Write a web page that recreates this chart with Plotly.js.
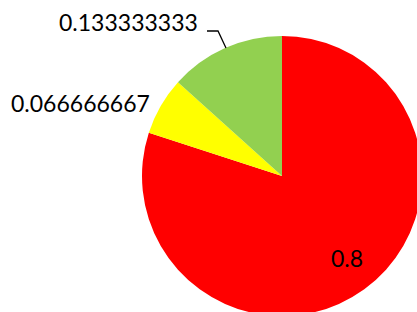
<!DOCTYPE html>
<html>
<head>
<meta charset="utf-8">
<script src="https://cdn.plot.ly/plotly-3.0.1.min.js"></script>
<style>
html,body{margin:0;padding:0;overflow:hidden;background:#fff;width:417px;height:312px;}
#chart{width:440px;height:340px;}
</style>
</head>
<body>
<div id="chart"></div>
<script>
var categories = ["A", "B", "C"];
var values = [0.8, 0.066666667, 0.133333333];
var valueLabels = ["0.8", "0.066666667", "0.133333333"];
var colors = ["#FF0000", "#FFFF00", "#92D050"];

var W = 440, H = 340;
function px(x){return x / W;}
function py(y){return 1 - y / H;}

var labelPos = [[347, 258], [80, 103], [128, 22]];

var annotations = valueLabels.map(function(t, i){
  return {
    text: t, xref: 'paper', yref: 'paper',
    x: px(labelPos[i][0]), y: py(labelPos[i][1]),
    xanchor: 'center', yanchor: 'middle', showarrow: false,
    font: {family: 'Lato, Liberation Sans, Arial, sans-serif', size: 23, color: '#000'}
  };
});

var data = [{
  type: 'pie',
  labels: categories,
  values: values,
  sort: false,
  direction: 'clockwise',
  rotation: 0,
  marker: {colors: colors, line: {width: 0}},
  textinfo: 'none',
  hoverinfo: 'none',
  domain: {x: [px(142), px(422)], y: [py(316), py(36)]}
}];

var layout = {
  width: W, height: H,
  margin: {l: 0, r: 0, t: 0, b: 0},
  showlegend: false,
  paper_bgcolor: '#fff',
  annotations: annotations,
  shapes: [{
    type: 'path', xref: 'paper', yref: 'paper',
    path: 'M ' + px(207) + ' ' + py(31) + ' L ' + px(218) + ' ' + py(31) + ' L ' + px(226) + ' ' + py(48),
    line: {color: '#000', width: 1.3}
  }]
};

Plotly.newPlot('chart', data, layout, {staticPlot: true, displayModeBar: false});
</script>
</body>
</html>
